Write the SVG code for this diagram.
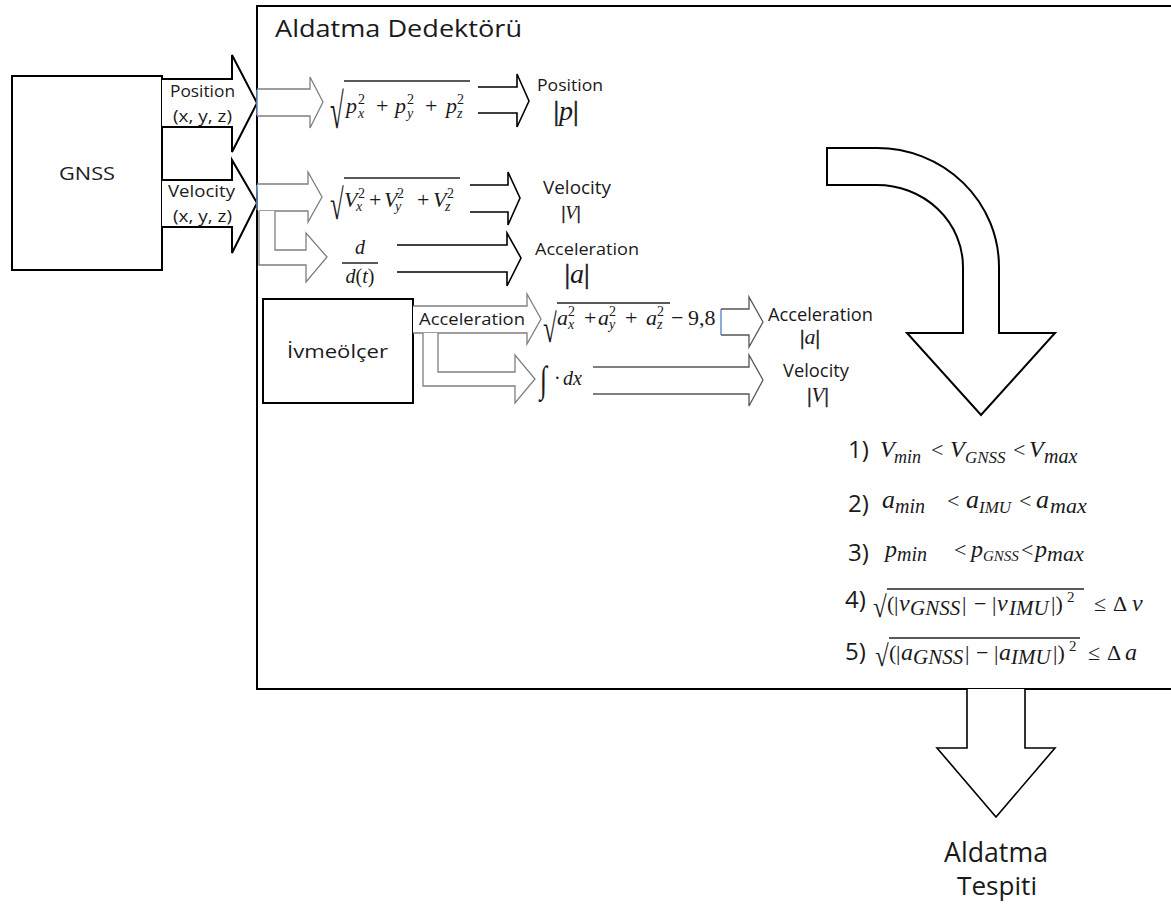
<svg xmlns="http://www.w3.org/2000/svg" width="1171" height="908" viewBox="0 0 1171 908">
<style>
.box{fill:#fff;stroke:#000;stroke-width:2}
.ga{fill:#fff;stroke:#000;stroke-width:2;stroke-linejoin:miter}
.ia{fill:#fff;stroke:#7f7f7f;stroke-width:1.3}
.oa{fill:#fff;stroke:#000;stroke-width:1.6}
.sa{fill:#fff;stroke:#555;stroke-width:1.3}
.big{fill:#fff;stroke:#000;stroke-width:2}
.ln{stroke:#222;stroke-width:1.4;fill:none}
.bl{stroke:#6d8fc9;stroke-width:1.6;fill:none}
.t{font-family:"Open Sans","Liberation Sans",sans-serif;fill:#1a1a1a}
.m{font-family:"Liberation Serif","DejaVu Serif",serif;font-style:italic;fill:#1a1a1a}
.r{font-family:"Liberation Serif","DejaVu Serif",serif;font-style:normal;fill:#1a1a1a}
.bar{font-style:normal;stroke:#1a1a1a;stroke-width:0.6}
</style>
<rect x="0" y="0" width="1171" height="908" fill="#fff"/>

<g id="aldatma-dedektoru">
<rect class="box" x="257" y="6" width="1000" height="683"/>
<text class="t" x="275" y="37" font-size="24" textLength="247" lengthAdjust="spacingAndGlyphs">Aldatma Dedektörü</text>
</g>

<g id="gnss">
<rect class="box" x="12" y="76" width="150" height="194" stroke-width="1.6"/>
<text class="t" x="59" y="180" font-size="19" textLength="56" lengthAdjust="spacingAndGlyphs">GNSS</text>
</g>

<g id="ivmeolcer">
<rect class="box" x="263" y="299" width="150" height="104"/>
<text class="t" x="287" y="358" font-size="19" textLength="101" lengthAdjust="spacingAndGlyphs">İvmeölçer</text>
</g>

<g id="connectors">
<path class="ga" d="M162 79 H232 V55 L257 103 L232 152 V127 H162"/>
<path class="ga" d="M162 180 H232 V160 L257 203 L232 253 V227 H162"/>
<path class="ia" d="M257 89 H310 V77 L323 102 L310 128 V116 H257"/>
<path class="ia" d="M257 184 H308 V172 L322 197 L308 222 V211 H259"/>
<path class="ia" d="M259 211 V265 H306 V282 L327 257 L306 233 V250 H275 V211"/>
<path class="ia" d="M413 306 H527 V294 L541 319 L527 344 V333 H413"/>
<path class="ia" d="M423 333 V386 H515 V403 L535 379 L515 355 V372 H438 V333"/>
<line class="bl" x1="257" y1="90" x2="257" y2="115"/>
<line class="bl" x1="257" y1="185" x2="257" y2="210"/>
<path class="oa" d="M478 87 H517 V74 L529 101 L517 127 V113 H478"/>
<path class="oa" d="M470 185 H508 V172 L520 198 L508 225 V212 H470"/>
<path class="oa" d="M397 245 H507 V233 L521 258 L507 286 V272 H397"/>
<path class="sa" d="M721 309 H749 V297 L763 322 L749 347 V335 H721"/>
<line x1="721" y1="309" x2="721" y2="335" stroke="#4472c4" stroke-width="1.2"/>
<path class="sa" d="M593 367 H749 V355 L763 380 L749 406 V394 H593"/>
<path class="big" d="M827 148 H877 A122 119 0 0 1 999 267 V333 H1055 L981 415 L907 333 H963 V267 A86 82 0 0 0 877 185 H827 Z"/>
<path class="oa" d="M967 689 V748 H937 L996 817 L1055 748 H1025 V689"/>
</g>

<g id="labels">
<text class="t" x="170" y="97" font-size="17" textLength="65" lengthAdjust="spacingAndGlyphs">Position</text>
<text class="t" x="173" y="122" font-size="17" textLength="59" lengthAdjust="spacingAndGlyphs">(x, y, z)</text>
<text class="t" x="168" y="197" font-size="17" textLength="67" lengthAdjust="spacingAndGlyphs">Velocity</text>
<text class="t" x="173" y="222" font-size="17" textLength="59" lengthAdjust="spacingAndGlyphs">(x, y, z)</text>

<text class="t" x="537" y="91" font-size="17" textLength="66" lengthAdjust="spacingAndGlyphs">Position</text>
<text class="r" x="566" y="120" font-size="28" text-anchor="middle"><tspan class="bar">|</tspan><tspan class="m">p</tspan><tspan class="bar">|</tspan></text>
<text class="t" x="543" y="194" font-size="18" textLength="68" lengthAdjust="spacingAndGlyphs">Velocity</text>
<text class="r" x="571" y="219" font-size="19" text-anchor="middle"><tspan class="bar">|</tspan><tspan class="m">V</tspan><tspan class="bar">|</tspan></text>
<text class="t" x="535" y="255" font-size="17" textLength="104" lengthAdjust="spacingAndGlyphs">Acceleration</text>
<text class="r" x="577" y="283" font-size="28" text-anchor="middle"><tspan class="bar">|</tspan><tspan class="m">a</tspan><tspan class="bar">|</tspan></text>

<text class="t" x="419" y="325" font-size="17" textLength="106" lengthAdjust="spacingAndGlyphs">Acceleration</text>
<text class="t" x="768" y="321" font-size="18" textLength="105" lengthAdjust="spacingAndGlyphs">Acceleration</text>
<text class="r" x="810" y="344" font-size="22" text-anchor="middle"><tspan class="bar">|</tspan><tspan class="m">a</tspan><tspan class="bar">|</tspan></text>
<text class="t" x="783" y="377" font-size="18" textLength="66" lengthAdjust="spacingAndGlyphs">Velocity</text>
<text class="r" x="818" y="402" font-size="21" text-anchor="middle"><tspan class="bar">|</tspan><tspan class="m">V</tspan><tspan class="bar">|</tspan></text>

<text class="t" x="944" y="862" font-size="27" textLength="104" lengthAdjust="spacingAndGlyphs">Aldatma</text>
<text class="t" x="957" y="895" font-size="26" textLength="80" lengthAdjust="spacingAndGlyphs">Tespiti</text>
</g>

<g id="formulas">
<text class="r" transform="translate(330,128) scale(1,2)" font-size="25">√</text>
<line class="ln" x1="344" y1="81" x2="470" y2="81"/>
<text class="m" font-size="22"><tspan x="346" y="113">p</tspan><tspan x="358" y="104" font-size="14" font-style="normal">2</tspan><tspan x="358" y="118" font-size="14">x</tspan><tspan x="376" y="113" font-style="normal">+</tspan><tspan x="395" y="113">p</tspan><tspan x="407" y="104" font-size="14" font-style="normal">2</tspan><tspan x="407" y="118" font-size="14">y</tspan><tspan x="425" y="113" font-style="normal">+</tspan><tspan x="446" y="113">p</tspan><tspan x="457" y="104" font-size="14" font-style="normal">2</tspan><tspan x="457" y="118" font-size="14">z</tspan></text>

<text class="r" transform="translate(330,219) scale(1,1.7)" font-size="25">√</text>
<line class="ln" x1="344" y1="178" x2="460" y2="178"/>
<text class="m" font-size="22"><tspan x="344" y="207">V</tspan><tspan x="358" y="198" font-size="14" font-style="normal">2</tspan><tspan x="356" y="211" font-size="14">x</tspan><tspan x="369" y="207" font-style="normal">+</tspan><tspan x="384" y="207">V</tspan><tspan x="397" y="198" font-size="14" font-style="normal">2</tspan><tspan x="395" y="211" font-size="14">y</tspan><tspan x="417" y="207" font-style="normal">+</tspan><tspan x="433" y="207">V</tspan><tspan x="447" y="198" font-size="14" font-style="normal">2</tspan><tspan x="445" y="211" font-size="14">z</tspan></text>

<text class="m" x="360" y="254" font-size="20" text-anchor="middle">d</text>
<line class="ln" x1="342" y1="263" x2="378" y2="263"/>
<text class="m" x="360" y="283" font-size="20" text-anchor="middle">d<tspan font-style="normal">(</tspan>t<tspan font-style="normal">)</tspan></text>

<text class="r" transform="translate(543,342) scale(1,1.6)" font-size="25">√</text>
<line class="ln" x1="557" y1="303" x2="670" y2="303"/>
<text class="m" font-size="22"><tspan x="557" y="325">a</tspan><tspan x="568" y="316" font-size="14" font-style="normal">2</tspan><tspan x="568" y="329" font-size="14">x</tspan><tspan x="584" y="325" font-style="normal">+</tspan><tspan x="598" y="325">a</tspan><tspan x="609" y="316" font-size="14" font-style="normal">2</tspan><tspan x="609" y="329" font-size="14">y</tspan><tspan x="625" y="325" font-style="normal">+</tspan><tspan x="646" y="325">a</tspan><tspan x="657" y="316" font-size="14" font-style="normal">2</tspan><tspan x="657" y="329" font-size="14">z</tspan><tspan x="671" y="325" font-style="normal">−</tspan><tspan x="688" y="325" font-style="normal">9,8</tspan></text>

<text class="r" transform="translate(540,392) scale(1,1.43)" font-size="26">∫</text>
<text class="m" font-size="20"><tspan x="554" y="385" font-style="normal">·</tspan><tspan x="563" y="385">dx</tspan></text>
</g>

<g id="conditions">
<text class="t" x="848" y="458" font-size="24">1)</text>
<text class="m" font-size="24"><tspan x="880" y="457">V</tspan><tspan x="894" y="463" font-size="18">min</tspan><tspan x="931" y="457" font-style="normal" font-size="22">&lt;</tspan><tspan x="950" y="457">V</tspan><tspan x="965" y="463" font-size="17">GNSS</tspan><tspan x="1013" y="457" font-style="normal" font-size="22">&lt;</tspan><tspan x="1029" y="457">V</tspan><tspan x="1044" y="463" font-size="20">max</tspan></text>

<text class="t" x="848" y="512" font-size="24">2)</text>
<text class="m" font-size="26"><tspan x="882" y="508">a</tspan><tspan x="895" y="513" font-size="20">min</tspan><tspan x="947" y="508" font-style="normal" font-size="22">&lt;</tspan><tspan x="966" y="508">a</tspan><tspan x="979" y="513" font-size="17">IMU</tspan><tspan x="1019" y="508" font-style="normal" font-size="22">&lt;</tspan><tspan x="1036" y="508">a</tspan><tspan x="1050" y="513" font-size="22">max</tspan></text>

<text class="t" x="848" y="561" font-size="24">3)</text>
<text class="m" font-size="24"><tspan x="885" y="557">p</tspan><tspan x="897" y="561" font-size="20">min</tspan><tspan x="954" y="557" font-style="normal" font-size="22">&lt;</tspan><tspan x="971" y="557">p</tspan><tspan x="983" y="561" font-size="15">GNSS</tspan><tspan x="1021" y="557" font-style="normal" font-size="22">&lt;</tspan><tspan x="1035" y="557">p</tspan><tspan x="1047" y="561" font-size="22">max</tspan></text>

<text class="t" x="845" y="608" font-size="24">4)</text>
<text class="r" transform="translate(873,617) scale(1,1.2)" font-size="25">√</text>
<line class="ln" x1="887" y1="589" x2="1084" y2="589"/>
<text class="m" font-size="24"><tspan x="887" y="611" font-style="normal" font-size="22">(</tspan><tspan x="894" y="611" font-style="normal" font-size="22">|</tspan><tspan x="899" y="611">v</tspan><tspan x="910" y="615" font-size="21">GNSS</tspan><tspan x="962" y="611" font-style="normal" font-size="22">|</tspan><tspan x="974" y="611" font-style="normal" font-size="22">−</tspan><tspan x="992" y="611" font-style="normal" font-size="22">|</tspan><tspan x="997" y="611">v</tspan><tspan x="1009" y="615" font-size="21">IMU</tspan><tspan x="1051" y="611" font-style="normal" font-size="22">|)</tspan><tspan x="1067" y="602" font-style="normal" font-size="15">2</tspan><tspan x="1094" y="611" font-style="normal" font-size="22">≤</tspan><tspan x="1113" y="611" font-style="normal" font-size="22">Δ</tspan><tspan x="1132" y="611">v</tspan></text>

<text class="t" x="845" y="660" font-size="24">5)</text>
<text class="r" transform="translate(875,666) scale(1,1.2)" font-size="25">√</text>
<line class="ln" x1="889" y1="638" x2="1080" y2="638"/>
<text class="m" font-size="24"><tspan x="889" y="660" font-style="normal" font-size="22">(</tspan><tspan x="896" y="660" font-style="normal" font-size="22">|</tspan><tspan x="901" y="660">a</tspan><tspan x="913" y="664" font-size="21">GNSS</tspan><tspan x="965" y="660" font-style="normal" font-size="22">|</tspan><tspan x="976" y="660" font-style="normal" font-size="22">−</tspan><tspan x="994" y="660" font-style="normal" font-size="22">|</tspan><tspan x="999" y="660">a</tspan><tspan x="1011" y="664" font-size="21">IMU</tspan><tspan x="1053" y="660" font-style="normal" font-size="22">|)</tspan><tspan x="1069" y="651" font-style="normal" font-size="15">2</tspan><tspan x="1088" y="660" font-style="normal" font-size="22">≤</tspan><tspan x="1107" y="660" font-style="normal" font-size="22">Δ</tspan><tspan x="1125" y="660">a</tspan></text>
</g>
</svg>
